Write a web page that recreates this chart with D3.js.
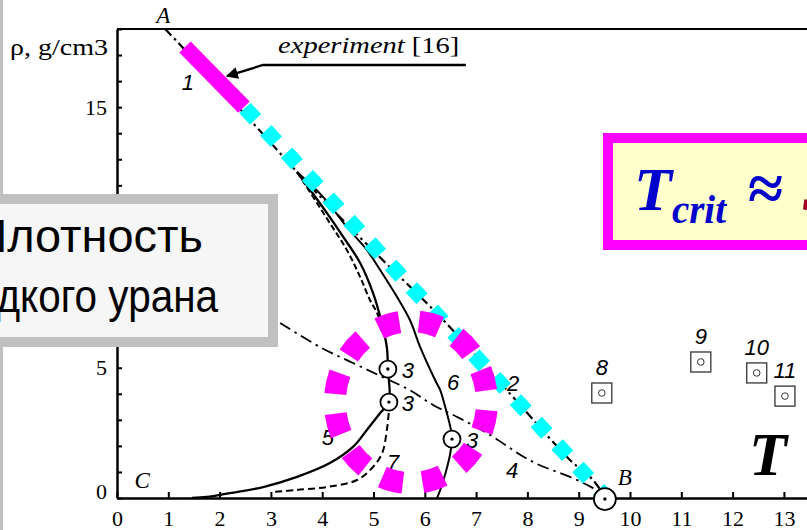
<!DOCTYPE html>
<html>
<head>
<meta charset="utf-8">
<script src="https://cdn.jsdelivr.net/npm/d3@7"></script>
<style>
  body { margin: 0; background: #fff; }
  svg { display: block; }
</style>
</head>
<body>
<div id="chart"></div>
<script>
// values: x = T (10^3 K), y = rho (g/cm3)
var xTicks = d3.range(0, 14);
var yTicks = d3.range(0, 19);
var yLabelTicks = [0, 5, 15];   // the "10" label sits under the caption box

// curve 2 (A-B, dash-dot)
var curve2 = [[0.94, 18.0], [1.80, 16.2], [2.65, 14.39], [3.51, 12.51], [4.40, 10.67], [5.32, 8.86],
              [6.24, 7.08], [7.0, 5.45], [7.80, 3.70], [8.83, 1.46], [9.28, 0.69], [9.51, 0.04]];
// curve 5 (solid, left branch)
var curve5 = [[3.51, 12.51], [4.09, 10.94], [4.41, 10.02], [4.74, 9.02], [4.99, 7.87], [5.13, 6.95],
              [5.26, 5.79], [5.28, 4.95], [5.30, 3.68], [5.13, 3.26], [4.87, 2.61], [4.60, 1.96],
              [4.15, 1.34], [3.51, 0.81], [2.85, 0.42], [2.20, 0.19], [1.75, 0.04], [1.46, 0.0]];
// curve 6 (solid, right branch)
var curve6 = [[3.51, 12.51], [4.02, 11.55], [4.48, 10.40], [4.87, 9.52], [5.13, 8.75], [5.46, 7.71],
              [5.71, 6.83], [5.91, 5.79], [6.20, 4.53], [6.30, 4.14], [6.43, 3.26], [6.50, 2.70],
              [6.53, 2.26], [6.49, 1.65], [6.41, 1.00], [6.32, 0.42], [6.24, 0.0]];
// curve 7 (dashed), upper and lower parts
var curve7a = [[3.51, 12.51], [4.15, 10.55], [4.48, 9.52], [4.74, 8.48], [4.93, 7.60], [5.07, 7.10], [5.18, 6.50]];
var curve7b = [[5.30, 3.68], [5.30, 3.38], [5.26, 2.61], [5.17, 1.73], [4.99, 1.19], [4.68, 0.69],
               [4.09, 0.42], [3.51, 0.31], [3.04, 0.23]];
// curve 4 (dash-dot)
var curve4 = [[3.18, 6.72], [3.96, 5.79], [4.60, 5.18], [5.18, 4.64], [5.71, 4.14], [6.16, 3.57],
              [6.63, 3.11], [7.21, 2.49], [8.11, 1.38], [8.83, 0.81], [9.28, 0.38], [9.47, 0.12]];

// points "3" and end point B
var points3 = [[5.28, 4.95], [5.30, 3.68], [6.53, 2.26]];
var pointB = [9.51, -0.04];

// squares 8-11
var sqNames = ["8", "9", "10", "11"];
var sqX = [9.45, 11.38, 12.47, 13.02];
var sqY = [4.03, 5.22, 4.80, 3.91];

// curve number labels
var curveLabels = [
  {t: "1", x: 1.38, y: 15.96}, {t: "2", x: 7.72, y: 4.41},
  {t: "3", x: 5.67, y: 4.91}, {t: "3", x: 5.67, y: 3.65}, {t: "3", x: 6.92, y: 2.23},
  {t: "4", x: 7.70, y: 1.07}, {t: "5", x: 4.11, y: 2.34}, {t: "6", x: 6.55, y: 4.45},
  {t: "7", x: 5.38, y: 1.38}
];
var letters = [{t: "A", x: 0.9, y: 18.53}, {t: "B", x: 9.9, y: 0.81}, {t: "C", x: 0.49, y: 0.69}];

// highlights drawn over the figure
var experimentSeg = [[1.325, 17.31], [2.475, 15.0]];
var cyanSeg = [[2.495, 14.97], [9.49, 0.12]];
var ringCenter = [5.73, 3.68];
var arrowPath = [[6.80, 16.62], [2.846, 16.62], [2.144, 16.19]];

var W = 807, H = 530;
var svg = d3.select("#chart").append("svg").attr("width", W).attr("height", H);
svg.append("rect").attr("width", W).attr("height", H).attr("fill", "#fff");

var x = d3.scaleLinear().domain([0, 13.45]).range([117, 807]);
var y = d3.scaleLinear().domain([0, 18]).range([498, 29]);

var serif = "'Liberation Serif', 'Times New Roman', serif";
var sans = "'Liberation Sans', Arial, sans-serif";

// top frame line
svg.append("line")
    .attr("x1", x(0)).attr("x2", x(13.45))
    .attr("y1", y(18)).attr("y2", y(18))
    .attr("stroke", "#000").attr("stroke-width", 2);

// x axis
var gx = svg.append("g")
    .attr("transform", "translate(0," + y(0) + ")")
    .call(d3.axisBottom(x).tickValues(xTicks).tickSizeInner(-6).tickSizeOuter(0)
        .tickPadding(12).tickFormat(d3.format("d")));
gx.attr("font-family", serif).attr("font-size", 22);
gx.select(".domain").attr("stroke-width", 2.5);
gx.selectAll(".tick line").attr("stroke-width", 2);

// y axis
var gy = svg.append("g")
    .attr("transform", "translate(" + x(0) + ",0)")
    .call(d3.axisLeft(y).tickValues(yTicks).tickSizeInner(-5).tickSizeOuter(0)
        .tickPadding(10).tickFormat(function (d) { return yLabelTicks.indexOf(d) >= 0 ? d : ""; }));
gy.attr("font-family", serif).attr("font-size", 22);
gy.select(".domain").attr("stroke-width", 2.5);
gy.selectAll(".tick line").attr("stroke-width", 2);
gy.selectAll(".tick text").filter(function (d) { return d === 0; }).attr("dy", "0");

svg.append("text")
    .attr("transform", "translate(10,55) scale(1.22,1)")
    .attr("font-family", serif).attr("font-size", 23)
    .text("ρ, g/cm3");

// curves
var line = d3.line()
    .x(function (d) { return x(d[0]); })
    .y(function (d) { return y(d[1]); })
    .curve(d3.curveCatmullRom.alpha(0.5));
var straight = d3.line()
    .x(function (d) { return x(d[0]); })
    .y(function (d) { return y(d[1]); });

function drawCurve(data, width, dash) {
  svg.append("path")
      .datum(data)
      .attr("fill", "none")
      .attr("stroke", "#000")
      .attr("stroke-width", width)
      .attr("stroke-dasharray", dash)
      .attr("d", line);
}
drawCurve(curve4, 1.8, "12,5,2.5,5");
drawCurve(curve7a, 2, "6,3");
drawCurve(curve7b, 2, "7,4");
drawCurve(curve6, 2, null);
drawCurve(curve5, 2.3, null);
drawCurve(curve2, 2.2, "9,4,2.5,4");

// experiment arrow
svg.append("defs").append("marker")
    .attr("id", "arr").attr("viewBox", "0 0 10 10")
    .attr("refX", 9).attr("refY", 5)
    .attr("markerWidth", 7).attr("markerHeight", 5)
    .attr("markerUnits", "strokeWidth")
    .attr("orient", "auto")
  .append("path").attr("d", "M0,0 L10,5 L0,10 z").attr("fill", "#000");

svg.append("path")
    .datum(arrowPath)
    .attr("fill", "none").attr("stroke", "#000").attr("stroke-width", 2.4)
    .attr("marker-end", "url(#arr)")
    .attr("d", straight);

var expText = svg.append("text")
    .attr("transform", "translate(" + x(3.14) + "," + y(17.08) + ") scale(1.24,1)")
    .attr("font-family", serif).attr("font-size", 23);
expText.append("tspan").attr("font-style", "italic").text("experiment");
expText.append("tspan").text(" [16]");

// labels
svg.selectAll(".clab")
    .data(curveLabels)
    .enter().append("text")
    .attr("x", function (d) { return x(d.x); })
    .attr("y", function (d) { return y(d.y); })
    .attr("dy", "0.36em")
    .attr("text-anchor", "middle")
    .attr("font-family", sans).attr("font-style", "italic").attr("font-size", 22)
    .text(function (d) { return d.t; });

svg.selectAll(".let")
    .data(letters)
    .enter().append("text")
    .attr("x", function (d) { return x(d.x); })
    .attr("y", function (d) { return y(d.y); })
    .attr("dy", "0.36em")
    .attr("text-anchor", "middle")
    .attr("font-family", serif).attr("font-style", "italic").attr("font-size", 23)
    .text(function (d) { return d.t; });

// squares 8..11
sqNames.forEach(function (n, i) {
  var cx = x(sqX[i]), cy = y(sqY[i]);
  svg.append("rect")
      .attr("x", cx - 10).attr("y", cy - 10).attr("width", 20).attr("height", 20)
      .attr("fill", "#fff").attr("stroke", "#333").attr("stroke-width", 1.3);
  svg.append("circle").attr("cx", cx).attr("cy", cy).attr("r", 3.3)
      .attr("fill", "none").attr("stroke", "#333").attr("stroke-width", 1);
  svg.append("text")
      .attr("x", cx).attr("y", cy - 26).attr("dy", "0.36em")
      .attr("text-anchor", "middle")
      .attr("font-family", sans).attr("font-style", "italic").attr("font-size", 22)
      .text(n);
});

// cyan dashed highlight of line AB
svg.append("path")
    .datum(cyanSeg)
    .attr("stroke", "#00ffff").attr("stroke-width", 15.5)
    .attr("stroke-dasharray", "15.5,15.1")
    .attr("d", straight);

// magenta experimental segment
svg.append("path")
    .datum(experimentSeg)
    .attr("stroke", "#ff00ff").attr("stroke-width", 16)
    .attr("d", straight);

// point circles
points3.concat([pointB]).forEach(function (p, i) {
  var r = i === 3 ? 11 : 8.5;
  svg.append("circle").attr("cx", x(p[0])).attr("cy", y(p[1])).attr("r", r)
      .attr("fill", "#fff").attr("stroke", "#000").attr("stroke-width", 1.8);
  svg.append("circle").attr("cx", x(p[0])).attr("cy", y(p[1])).attr("r", 1.7).attr("fill", "#000");
});

// magenta dashed ring around the critical region
svg.append("ellipse")
    .attr("cx", x(ringCenter[0])).attr("cy", y(ringCenter[1]))
    .attr("rx", 76).attr("ry", 81)
    .attr("pathLength", 360)
    .attr("fill", "none").attr("stroke", "#ff00ff").attr("stroke-width", 22)
    .attr("stroke-dasharray", "15.5,14.5").attr("stroke-dashoffset", -6);

// big T
svg.append("text")
    .attr("x", 749).attr("y", 475)
    .attr("font-family", serif).attr("font-style", "italic").attr("font-weight", "bold")
    .attr("font-size", 62)
    .text("T");

// left caption box
svg.append("rect").attr("x", 0).attr("y", 0).attr("width", 3).attr("height", H).attr("fill", "#c0c0c0");
svg.append("rect")
    .attr("x", -10).attr("y", 199).attr("width", 283).attr("height", 143)
    .attr("fill", "#f6f6f6").attr("stroke", "#c0c0c0").attr("stroke-width", 10);
svg.append("text")
    .attr("transform", "translate(203,252) scale(1.02,1)")
    .attr("text-anchor", "end")
    .attr("font-family", sans).attr("font-size", 46)
    .text("Плотность");
svg.append("text")
    .attr("transform", "translate(218,312) scale(0.88,1)")
    .attr("text-anchor", "end")
    .attr("font-family", sans).attr("font-size", 46)
    .text("жидкого урана");

// right box T_crit
svg.append("rect")
    .attr("x", 608).attr("y", 138).attr("width", 260).attr("height", 107)
    .attr("fill", "#ffffcc").attr("stroke", "#ff00ff").attr("stroke-width", 10);
var tc = svg.append("text")
    .attr("x", 634).attr("y", 210)
    .attr("font-family", serif).attr("font-weight", "bold").attr("font-style", "italic")
    .attr("fill", "#0000cc");
tc.append("tspan").attr("font-size", 62).text("T");
tc.append("tspan").attr("font-size", 39).attr("dy", 13).text("crit");
tc.append("tspan").attr("font-size", 64).attr("font-style", "normal").attr("dy", -13).attr("dx", 22).text("≈");
tc.append("tspan").attr("font-size", 62).attr("dx", 19).attr("fill", "#a00028").text("5");
</script>
</body>
</html>
